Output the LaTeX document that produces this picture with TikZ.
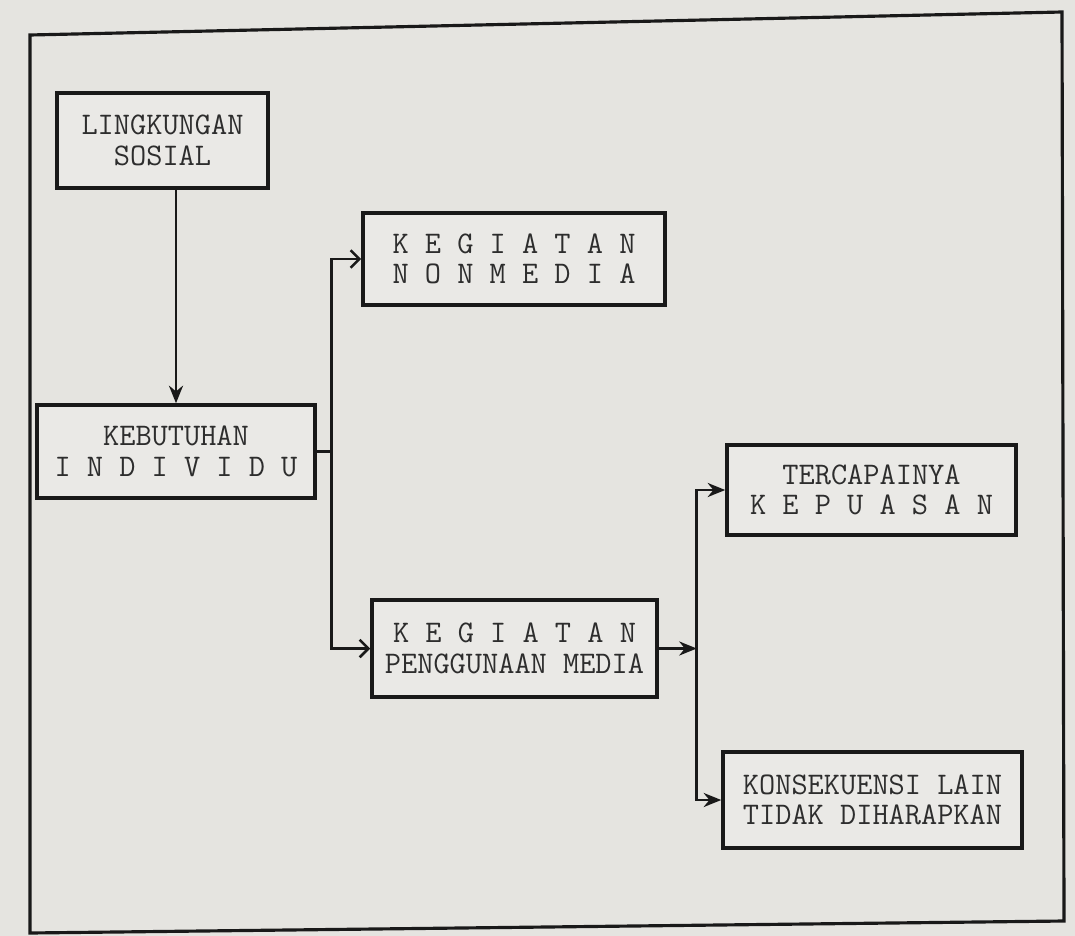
\documentclass[tikz,border=0pt]{standalone}
\usepackage{fontspec}
\usetikzlibrary{arrows.meta}
\definecolor{paper}{RGB}{229,228,224}
\definecolor{boxfill}{RGB}{234,233,230}
\definecolor{ink}{RGB}{25,25,25}
\definecolor{txt}{RGB}{45,45,45}
\tikzset{
  box/.style={draw=ink, line width=2pt, fill=boxfill, inner sep=0pt, align=center,
    text=txt, font=\ttfamily\fontsize{17.9}{17.4}\selectfont},
  conn/.style={draw=ink, line width=1.5pt},
  solidarr/.style={conn, -{Stealth[length=10pt,width=8pt]}},
  openarr/.style={conn, -{Straight Barb[length=5pt,width=10pt]}},
}
\begin{document}
\begin{tikzpicture}[x=0.02cm,y=-0.02cm]
\useasboundingbox (0,0) rectangle (1075,936);
\fill[paper] (0,0) rectangle (1075,936);
\draw[ink, line width=1.8pt] (30,933) -- (30,35) -- (1062,12) -- (1064,921) -- cycle;

\node[box, minimum width=211*0.02cm, minimum height=95*0.02cm] (ling) at (162.5,140.5) {LINGKUNGAN\\SOSIAL};
\node[box, minimum width=278*0.02cm, minimum height=93*0.02cm] (keb) at (176,451.5) {KEBUTUHAN\\I N D I V I D U};
\node[box, minimum width=302*0.02cm, minimum height=92*0.02cm] (nonm) at (514,259) {K E G I A T A N\\N O N M E D I A};
\node[box, minimum width=285*0.02cm, minimum height=97*0.02cm] (peng) at (514.5,648.5) {K E G I A T A N\\PENGGUNAAN MEDIA};
\node[box, minimum width=289*0.02cm, minimum height=90*0.02cm] (terc) at (871.5,490) {TERCAPAINYA\\K E P U A S A N};
\node[box, minimum width=299*0.02cm, minimum height=96*0.02cm] (kons) at (872.5,800) {KONSEKUENSI LAIN\\TIDAK DIHARAPKAN};

\draw[solidarr] (ling.south -| keb.north) -- (keb.north);
\draw[openarr] (keb.east) -- ++(15,0) coordinate (j1) |- (nonm.west);
\draw[openarr] (j1) |- (peng.west);
\draw[solidarr] (peng.east) -- ++(38,0) coordinate (j2);
\draw[solidarr] (j2) |- (terc.west);
\draw[solidarr] (j2) |- (kons.west);
\end{tikzpicture}
\end{document}
